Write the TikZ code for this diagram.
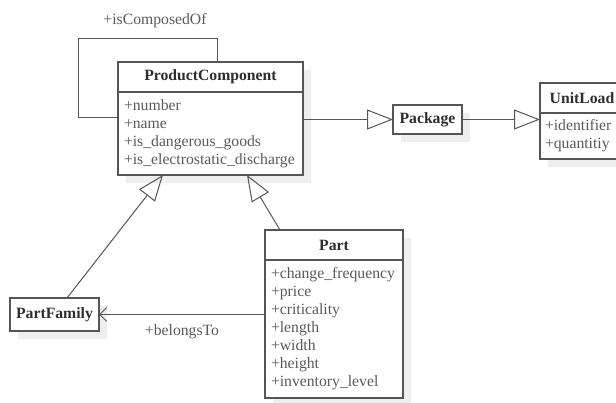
\documentclass[tikz,border=0pt]{standalone}
\usepackage{fontspec}
\setmainfont{Liberation Serif}
\usetikzlibrary{arrows.meta,shadows}
\definecolor{umlline}{HTML}{555555}
\definecolor{umltext}{HTML}{2E2E2E}
\definecolor{attrtext}{HTML}{5A5A5A}
\definecolor{shade}{HTML}{EEEEEE}
\newcommand{\umlfont}{\fontsize{15.7}{18}\selectfont}
\tikzstyle{boxed}=[draw=umlline,line width=1.4pt,fill=white,inner sep=0pt,outer sep=0pt,anchor=north west,drop shadow={shadow xshift=8pt,shadow yshift=-8pt,fill=shade,opacity=1}]
\tikzstyle{classhead}=[boxed,font=\umlfont\bfseries,text=umltext,minimum height=30pt]
\tikzstyle{classbody}=[boxed,align=left,text=attrtext,inner xsep=6pt]
\tikzstyle{inherit}=[draw=umlline,line width=1pt,-{Triangle[open,length=26pt,width=20pt]}]
\tikzstyle{assoc}=[draw=umlline,line width=1pt]
\tikzstyle{lbl}=[text=attrtext]

\begin{document}
\begin{tikzpicture}[x=1pt,y=-1pt,font=\umlfont]
    \useasboundingbox (0,0) rectangle (616,403);

    % the classes, header box and attribute box
    \node[classhead,minimum width=185pt] (pc) at (118,62) {ProductComponent};
    \node[classbody,text width=173pt,minimum height=83pt] (pcattr) at (pc.south west)
        {+number\\+name\\+is\_dangerous\_goods\\+is\_electrostatic\_discharge};

    \node[classhead,minimum width=69pt,minimum height=29pt] (pkg) at (393,105) {Package};

    \node[classhead,minimum width=84pt] (ul) at (540,83) {UnitLoad};
    \node[classbody,text width=74pt,minimum height=46pt,inner xsep=5pt] (ulattr) at (ul.south west)
        {+identifier\\+quantitiy};

    \node[classhead,minimum width=138pt] (part) at (265,230) {Part};
    \node[classbody,text width=126pt,minimum height=138pt] (partattr) at (part.south west)
        {+change\_frequency\\+price\\+criticality\\+length\\+width\\+height\\+inventory\_level};

    \node[classhead,minimum width=89pt,minimum height=33pt] (pf) at (10,298) {PartFamily};

    % self association
    \draw[assoc] ([xshift=99pt]pc.north west) |- (78,39) |- ([yshift=15.5pt]pcattr.west);
    \node[lbl] (composed) at (155,21) {+isComposedOf};

    % generalisations
    \draw[inherit] (pkg.west -| pcattr.east) -- (pkg.west);
    \draw[inherit] (pkg.east) -- (pkg.east -| ulattr.west);
    \draw[inherit] ([xshift=15pt]part.north west) -- ([xshift=129pt]pcattr.south west);
    \draw[inherit] ([xshift=57pt]pf.north west) -- ([xshift=45pt]pcattr.south west);

    % association to the family
    \draw[assoc,-{Straight Barb[length=7pt,width=14pt]}] (pf.east -| partattr.west)
        -- node[lbl,below=6pt] (belongs) {+belongsTo} (pf.east);
\end{tikzpicture}
\end{document}
